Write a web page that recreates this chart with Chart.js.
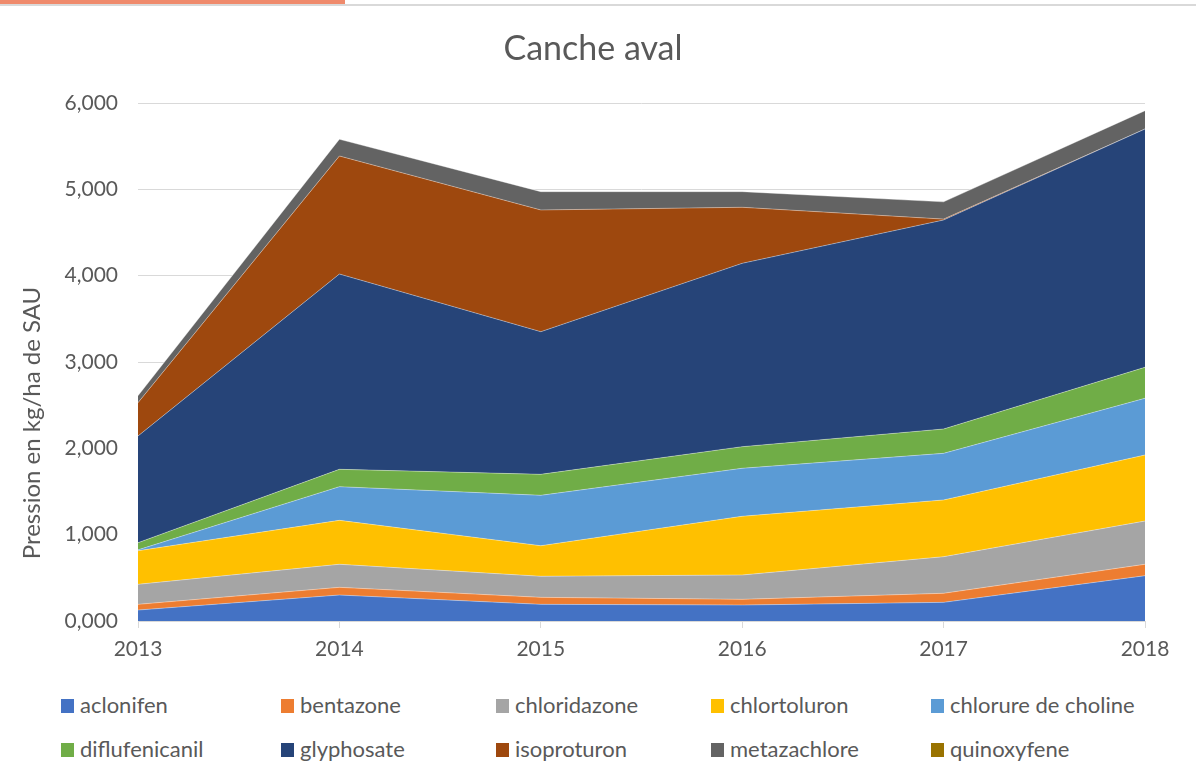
<!DOCTYPE html>
<html>
<head>
<meta charset="utf-8">
<script src="https://cdn.jsdelivr.net/npm/chart.js@4"></script>
<style>
  body { margin: 0; background: #fff; font-family: Lato, "Open Sans", sans-serif; }
  #wrap { position: relative; width: 1196px; height: 780px; overflow: hidden; }
  #logo { position: absolute; left: 0; top: 0; width: 345px; height: 4px; background: #ef8a6c; }
  #rule { position: absolute; left: 0; top: 4px; width: 1196px; height: 2px; background: #d9d9d9; }
  #chart-box { position: absolute; left: 0; top: 0; width: 1196px; height: 680px; }
  #title { position: absolute; left: 0; top: 26px; width: 1186px; text-align: center;
           font-size: 34px; color: #595959; }
  #ytitle { position: absolute; left: 31px; top: 423px; width: 400px; margin-left: -200px; margin-top: -14px;
            text-align: center; font-size: 24px; line-height: 28px; color: #595959;
            transform: rotate(-90deg); white-space: nowrap; }
  #legend { position: absolute; left: 0; top: 690px; width: 1196px; }
  .leg-item { position: absolute; font-size: 22px; color: #595959; white-space: nowrap; line-height: 28px; }
  .leg-box { display: inline-block; width: 13px; height: 14px; margin-right: 6px; vertical-align: 0px; }
</style>
</head>
<body>
<div id="wrap">
  <div id="logo"></div>
  <div id="rule"></div>
  <div id="chart-box"><canvas id="area_chart" width="1196" height="680"></canvas></div>
  <div id="title">Canche aval</div>
  <div id="ytitle">Pression en kg/ha de SAU</div>
  <div id="legend"></div>
</div>
<script>
// years on the x axis
const years = ['2013', '2014', '2015', '2016', '2017', '2018'];

// pressure per substance, kg/ha de SAU
const aclonifen     = [0.127, 0.301, 0.193, 0.185, 0.216, 0.525];
const bentazone     = [0.066, 0.089, 0.081, 0.066, 0.105, 0.132];
const chloridazone  = [0.232, 0.267, 0.244, 0.282, 0.424, 0.501];
const chlortoluron  = [0.389, 0.509, 0.354, 0.680, 0.657, 0.765];
const choline       = [0.010, 0.390, 0.584, 0.556, 0.540, 0.657];
const diflufenicanil = [0.083, 0.201, 0.243, 0.250, 0.282, 0.359];
const glyphosate    = [1.236, 2.262, 1.652, 2.124, 2.421, 2.760];
const isoproturon   = [0.386, 1.367, 1.410, 0.649, 0.010, 0.000];
const metazachlore  = [0.080, 0.194, 0.212, 0.181, 0.200, 0.212];
const quinoxyfene   = [0.000, 0.000, 0.000, 0.000, 0.000, 0.000];

const series = [
    ['aclonifen', aclonifen, '#4472C4'],
    ['bentazone', bentazone, '#ED7D31'],
    ['chloridazone', chloridazone, '#A5A5A5'],
    ['chlortoluron', chlortoluron, '#FFC000'],
    ['chlorure de choline', choline, '#5B9BD5'],
    ['diflufenicanil', diflufenicanil, '#70AD47'],
    ['glyphosate', glyphosate, '#264478'],
    ['isoproturon', isoproturon, '#9E480E'],
    ['metazachlore', metazachlore, '#636363'],
    ['quinoxyfene', quinoxyfene, '#997300'],
];

const datasets = series.map(function(s, i) {
    return {
        label: s[0],
        data: s[1],
        backgroundColor: s[2],
        borderColor: 'rgba(255,255,255,0.45)',
        borderWidth: 0.8,
        pointRadius: 0,
        tension: 0,
        fill: i == 0 ? 'origin' : '-1'
    };
});

const tick_font = { family: 'Lato, "Open Sans", sans-serif', size: 21 };

const config = {
    type: 'line',
    data: { labels: years, datasets: datasets },
    options: {
        responsive: false,
        animation: false,
        layout: { padding: { top: 103, right: 51, bottom: 0, left: 0 } },
        plugins: {
            legend: { display: false },
            tooltip: { enabled: false },
            title: { display: false }
        },
        scales: {
            x: {
                offset: false,
                grid: { drawOnChartArea: false, drawTicks: true, tickLength: 7, color: '#d9d9d9' },
                border: { color: '#d9d9d9', width: 1 },
                ticks: { color: '#595959', font: tick_font, padding: 9, maxRotation: 0 },
                afterFit: function(scale) { scale.height = 59; }
            },
            y: {
                stacked: true,
                min: 0,
                max: 6,
                grid: { color: '#d9d9d9', drawTicks: false },
                border: { display: false },
                ticks: {
                    stepSize: 1,
                    color: '#595959',
                    font: tick_font,
                    padding: 20,
                    callback: function(v) { return v.toFixed(3).replace('.', ','); }
                },
                afterFit: function(scale) { scale.width = 138; }
            }
        }
    }
};

let chart = new Chart(document.getElementById('area_chart'), config);

// legend in a 5 column grid, like the original
const leg_x = [61, 281, 496, 711, 931];
const leg_y = [1, 45];
const legend = document.getElementById('legend');
series.forEach(function(s, i) {
    const item = document.createElement('div');
    item.className = 'leg-item';
    item.style.left = leg_x[i % 5] + 'px';
    item.style.top = leg_y[Math.floor(i / 5)] + 'px';
    item.innerHTML = '<span class="leg-box" style="background:' + s[2] + '"></span>' + s[0];
    legend.appendChild(item);
});
</script>
</body>
</html>
